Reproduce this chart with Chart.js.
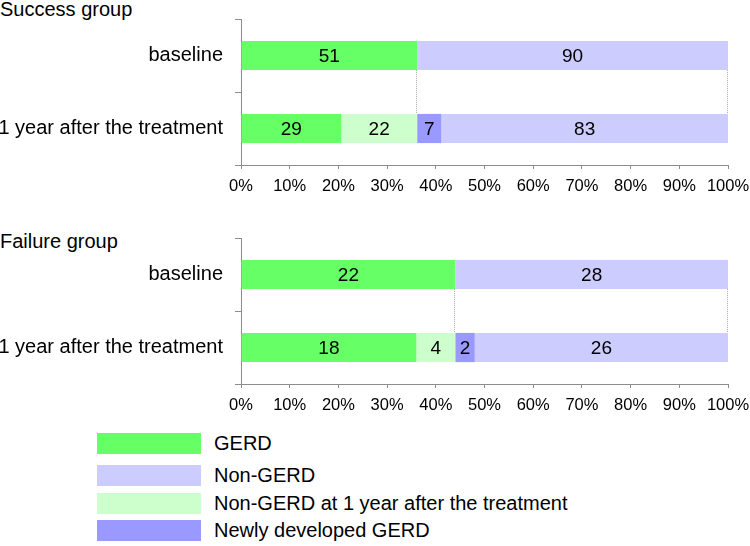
<!DOCTYPE html>
<html>
<head>
<meta charset="utf-8">
<script src="https://cdn.jsdelivr.net/npm/chart.js@4"></script>
<style>
  body { margin: 0; background: #fff; font-family: "Liberation Sans", Arial, sans-serif; }
  #wrap { position: relative; width: 750px; height: 546px; overflow: hidden; }
  canvas { position: absolute; left: 0; }
  .grp { position: absolute; left: 0; font-size: 20px; line-height: 22px; color: #000; }
  .leg { position: absolute; left: 97px; height: 21px; display: flex; align-items: center; }
  .leg span.sw { width: 104px; height: 21px; display: inline-block; }
  .leg span.tx { margin-left: 13px; font-size: 20px; color: #000; white-space: nowrap; }
</style>
</head>
<body>
<div id="wrap">
  <div class="grp" style="top:-2px">Success group</div>
  <canvas id="successChart" width="750" height="200" style="top:0"></canvas>
  <div class="grp" style="top:230px">Failure group</div>
  <canvas id="failureChart" width="750" height="200" style="top:219px"></canvas>
  <div id="legend"></div>
</div>
<script>
// categories
const rows = ['baseline', '1 year after the treatment'];

// counts per series (stack order: left to right)
const successGerd = [51, 29];
const successNonGerd1y = [0, 22];
const successNewGerd = [0, 7];
const successNonGerd = [90, 83];

const failureGerd = [22, 18];
const failureNonGerd1y = [0, 4];
const failureNewGerd = [0, 2];
const failureNonGerd = [28, 26];

const seriesNames = ['GERD', 'Non-GERD at 1 year after the treatment', 'Newly developed GERD', 'Non-GERD'];
const seriesColors = ['#66FF66', '#CCFFCC', '#9999FF', '#CCCCFF'];
const legendOrder = [0, 3, 1, 2];
const legendTops = [433, 465, 493, 520];

const xTicks = [0, 10, 20, 30, 40, 50, 60, 70, 80, 90, 100];

Chart.defaults.font.family = '"Liberation Sans", Arial, sans-serif';
Chart.defaults.font.size = 16;
Chart.defaults.color = '#000';

const axisColor = '#8c8c8c';

// count labels in the middle of each segment
const countLabels = {
    id: 'countLabels',
    afterDatasetsDraw(chart) {
        const c = chart.ctx;
        c.save();
        c.font = '19px "Liberation Sans", Arial, sans-serif';
        c.fillStyle = '#000';
        c.textAlign = 'center';
        c.textBaseline = 'middle';
        chart.data.datasets.forEach((ds, i) => {
            chart.getDatasetMeta(i).data.forEach((el, j) => {
                const n = ds.counts[j];
                if (!n) return;
                c.fillText(String(n), (el.x + el.base) / 2, el.y + 1);
            });
        });
        c.restore();
    }
};

// dotted series lines between the two bars
const seriesLines = {
    id: 'seriesLines',
    afterDatasetsDraw(chart) {
        const c = chart.ctx;
        c.save();
        c.strokeStyle = '#aaa';
        c.lineWidth = 1;
        c.setLineDash([1, 1]);
        [1, 3].forEach(i => {
            const d = chart.getDatasetMeta(i).data;
            const a = d[0], b = d[1];
            c.beginPath();
            c.moveTo(Math.round(a.x) - 0.5, a.y + a.height / 2);
            c.lineTo(Math.round(b.x) - 0.5, b.y - b.height / 2);
            c.stroke();
        });
        c.restore();
    }
};

function makeChart(id, groups) {
    const totals = rows.map((r, j) => groups.reduce((s, g) => s + g[j], 0));
    const datasets = groups.map((g, i) => ({
        label: seriesNames[i],
        counts: g,
        data: g.map((v, j) => v / totals[j] * 100),
        backgroundColor: seriesColors[i],
        borderWidth: 0,
        categoryPercentage: 1,
        barPercentage: 0.4
    }));

    return new Chart(document.getElementById(id), {
        type: 'bar',
        data: { labels: rows, datasets: datasets },
        options: {
            indexAxis: 'y',
            responsive: false,
            animation: false,
            layout: { padding: { top: 19, right: 22, bottom: 0, left: 0 } },
            plugins: { legend: { display: false }, tooltip: { enabled: false } },
            scales: {
                x: {
                    stacked: true,
                    min: 0,
                    max: 100,
                    afterBuildTicks: s => { s.ticks = xTicks.map(v => ({ value: v })); },
                    ticks: { callback: v => v + '%', padding: 8, maxRotation: 0, font: { size: 16.5 } },
                    grid: { drawOnChartArea: false, tickLength: 4, color: axisColor },
                    border: { color: axisColor },
                    afterFit: s => { s.height = 35; s.paddingRight = 0; s.paddingLeft = 0; }
                },
                y: {
                    stacked: true,
                    ticks: { padding: 12, font: { size: 20 } },
                    grid: { drawOnChartArea: false, tickLength: 6, color: axisColor },
                    border: { color: axisColor },
                    afterFit: s => { s.width = 241; s.paddingTop = 0; s.paddingBottom = 0; }
                }
            }
        },
        plugins: [seriesLines, countLabels]
    });
}

makeChart('successChart', [successGerd, successNonGerd1y, successNewGerd, successNonGerd]);
makeChart('failureChart', [failureGerd, failureNonGerd1y, failureNewGerd, failureNonGerd]);

// legend
const legend = document.getElementById('legend');
legendOrder.forEach((i, k) => {
    const row = document.createElement('div');
    row.className = 'leg';
    row.style.top = legendTops[k] + 'px';
    row.innerHTML = '<span class="sw" style="background:' + seriesColors[i] + '"></span><span class="tx">' + seriesNames[i] + '</span>';
    legend.appendChild(row);
});
</script>
</body>
</html>
